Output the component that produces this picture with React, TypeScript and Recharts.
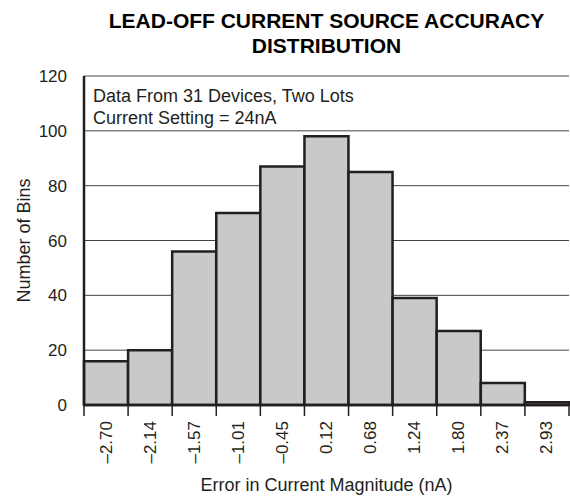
import React from 'react';
import { BarChart, Bar, XAxis, YAxis, CartesianGrid } from 'recharts';

const binLabels = ['–2.70', '–2.14', '–1.57', '–1.01', '–0.45', '0.12', '0.68', '1.24', '1.80', '2.37', '2.93'];
const binCounts = [16, 20, 56, 70, 87, 98, 85, 39, 27, 8, 1];
const yTicks = [0, 20, 40, 60, 80, 100, 120];
const titleLines = ['LEAD-OFF CURRENT SOURCE ACCURACY', 'DISTRIBUTION'];
const noteLines = ['Data From 31 Devices, Two Lots', 'Current Setting = 24nA'];
const xTitle = 'Error in Current Magnitude (nA)';
const yTitle = 'Number of Bins';

const data = binLabels.map((bin, i) => ({ bin, count: binCounts[i] }));

const W = 570;
const H = 498;
const L = 84;
const R = 569;
const T = 76;
const B = 405;
const INK = '#231f20';
const FONT = '"Liberation Sans", Arial, Helvetica, sans-serif';

const XTick = (props: any) => {
  const { x, y, payload, index } = props;
  const band = (R - L) / binLabels.length;
  const left = x - band / 2;
  const ty = y + 16;
  return (
    <g>
      <line x1={left} x2={left} y1={y} y2={y + 11} stroke={INK} strokeWidth={1.5} />
      {index === binLabels.length - 1 && (
        <line x1={left + band} x2={left + band} y1={y} y2={y + 11} stroke={INK} strokeWidth={1.5} />
      )}
      <text
        x={x}
        y={ty}
        transform={`rotate(-90, ${x}, ${ty})`}
        textAnchor="end"
        dominantBaseline="central"
        fontSize={17}
        fill={INK}
      >
        {payload.value}
      </text>
    </g>
  );
};

const YTitle = (props: any) => {
  const vb = props.viewBox || {};
  const cy = (vb.y ?? T) + (vb.height ?? B - T) / 2;
  const cx = 24;
  return (
    <text
      x={cx}
      y={cy}
      transform={`rotate(-90, ${cx}, ${cy})`}
      textAnchor="middle"
      dominantBaseline="central"
      fontSize={18}
      fill={INK}
    >
      {yTitle}
    </text>
  );
};

const XTitle = (props: any) => {
  const vb = props.viewBox || {};
  const cx = (vb.x ?? L) + (vb.width ?? R - L) / 2;
  return (
    <text x={cx} y={485} textAnchor="middle" dominantBaseline="central" fontSize={18} fill={INK}>
      {xTitle}
    </text>
  );
};

export default function App() {
  return (
    <div
      style={{
        position: 'absolute',
        left: 0,
        top: 0,
        width: W,
        height: H,
        background: '#fff',
        fontFamily: FONT,
        color: INK,
      }}
    >
      <div
        style={{
          position: 'absolute',
          left: 82,
          width: 489,
          top: 7.5,
          textAlign: 'center',
          fontWeight: 'bold',
          fontSize: 21,
          lineHeight: '25px',
          color: '#000',
          whiteSpace: 'nowrap',
        }}
      >
        {titleLines.map((t) => (
          <div key={t}>{t}</div>
        ))}
      </div>
      <BarChart
        width={W}
        height={H}
        data={data}
        margin={{ top: T, right: W - R, bottom: 0, left: 24 }}
        barCategoryGap={0}
        barGap={0}
      >
        <CartesianGrid horizontal vertical={false} stroke="#444" strokeWidth={1} />
        <XAxis
          dataKey="bin"
          height={H - B}
          interval={0}
          tickSize={0}
          tickMargin={0}
          tickLine={false}
          tick={<XTick />}
          axisLine={{ stroke: INK, strokeWidth: 2.5 }}
          label={<XTitle />}
        />
        <XAxis
          xAxisId="top"
          orientation="top"
          dataKey="bin"
          height={0}
          tick={false}
          tickLine={false}
          axisLine={{ stroke: INK, strokeWidth: 2 }}
        />
        <YAxis
          width={L - 24}
          domain={[0, 120]}
          ticks={yTicks}
          interval={0}
          tickSize={0}
          tickMargin={17}
          tickLine={false}
          tick={{ fontSize: 17, fill: INK }}
          axisLine={{ stroke: INK, strokeWidth: 2.5 }}
          label={<YTitle />}
        />
        <YAxis
          yAxisId="right"
          orientation="right"
          width={0}
          tick={false}
          tickLine={false}
          axisLine={{ stroke: INK, strokeWidth: 2 }}
        />
        <Bar dataKey="count" fill="#c8c9cb" stroke={INK} strokeWidth={2.5} isAnimationActive={false} />
      </BarChart>
      <div
        style={{
          position: 'absolute',
          left: 93,
          top: 84.5,
          fontSize: 18,
          lineHeight: '22px',
          color: INK,
          whiteSpace: 'nowrap',
        }}
      >
        {noteLines.map((t) => (
          <div key={t}>{t}</div>
        ))}
      </div>
    </div>
  );
}
